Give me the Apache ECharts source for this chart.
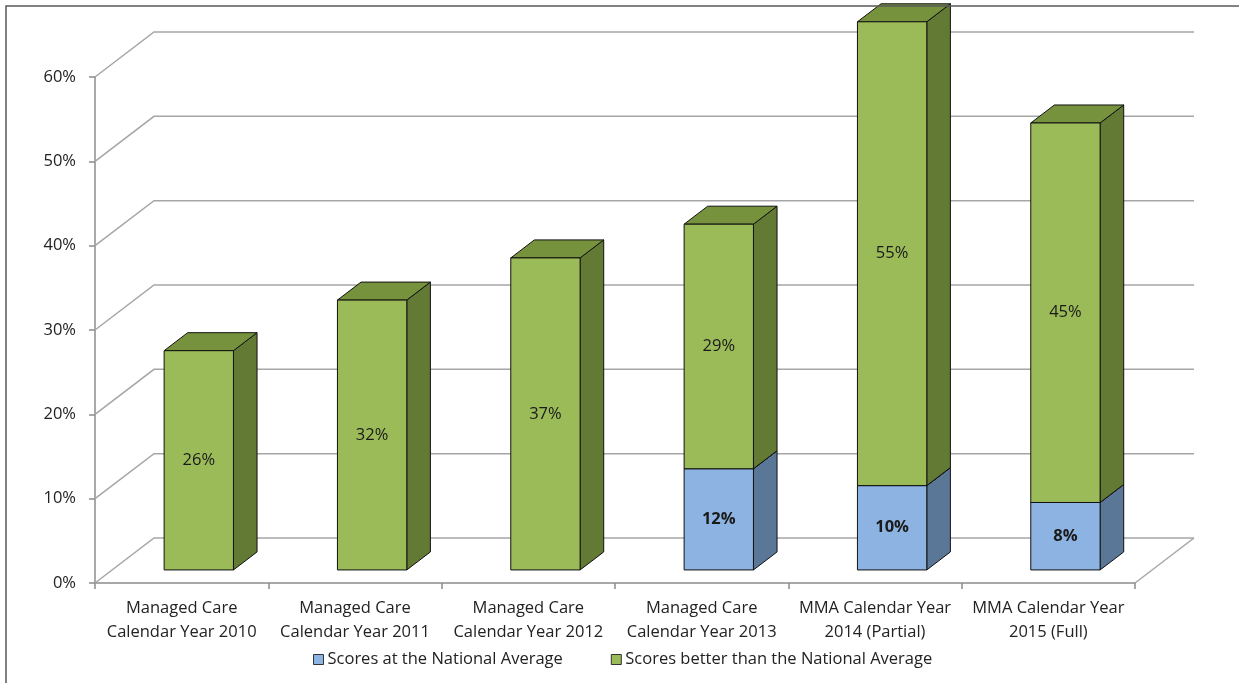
<!DOCTYPE html>
<html>
<head>
<meta charset="utf-8">
<title>Scores compared with the National Average</title>
<script src="https://cdn.jsdelivr.net/npm/echarts@6/dist/echarts.min.js"></script>
<style>
  html, body { margin: 0; padding: 0; background: #fff; }
  #chart { width: 1239px; height: 683px; }
</style>
</head>
<body>
<div id="chart"></div>
<script>
// Chart data
const categories = [
  'Managed Care\nCalendar Year 2010',
  'Managed Care\nCalendar Year 2011',
  'Managed Care\nCalendar Year 2012',
  'Managed Care\nCalendar Year 2013',
  'MMA Calendar Year\n2014 (Partial)',
  'MMA Calendar Year\n2015 (Full)'
];
const seriesNames = ['Scores at the National Average', 'Scores better than the National Average'];
const atAverage = [0, 0, 0, 0.12, 0.10, 0.08];
const betterThanAverage = [0.26, 0.32, 0.37, 0.29, 0.55, 0.45];
const yTicks = [0, 0.1, 0.2, 0.3, 0.4, 0.5, 0.6];

// Oblique projection of the depth axis (pixels for full depth)
const DEPTH_X = 59, DEPTH_Y = -45;
const BAR_FRONT = 0.29, BAR_BACK = 0.69;   // bar position within the depth
const BAR_WIDTH = 0.4;                      // share of a category band

const FONT = '"Open Sans", "Noto Sans", sans-serif';
const FONT_SIZE = 16.5;

const palettes = [
  { front: '#8DB3E2', side: '#5B7798', top: '#7196C2', bold: true },
  { front: '#9BBB59', side: '#637A35', top: '#76923C', bold: false }
];

function pct(v) { return Math.round(v * 100) + '%'; }

function makeBarRenderer(pal) {
  return function (params, api) {
    const i = api.value(0), v = api.value(1), base = api.value(2);
    if (!(v > 0)) return;
    const p0 = api.coord([i, base]);
    const p1 = api.coord([i, base + v]);
    const hw = api.size([1, 0])[0] * BAR_WIDTH / 2;
    const fx = DEPTH_X * BAR_FRONT, fy = DEPTH_Y * BAR_FRONT;
    const bx = DEPTH_X * (BAR_BACK - BAR_FRONT), by = DEPTH_Y * (BAR_BACK - BAR_FRONT);
    const L = p0[0] - hw + fx, R = p0[0] + hw + fx;
    const yb = p0[1] + fy, yt = p1[1] + fy;
    const edge = { stroke: '#111', lineWidth: 1, lineJoin: 'round' };
    return {
      type: 'group',
      children: [
        { type: 'polygon', shape: { points: [[R, yt], [R + bx, yt + by], [R + bx, yb + by], [R, yb]] },
          style: Object.assign({ fill: pal.side }, edge) },
        { type: 'polygon', shape: { points: [[L, yt], [R, yt], [R + bx, yt + by], [L + bx, yt + by]] },
          style: Object.assign({ fill: pal.top }, edge) },
        { type: 'polygon', shape: { points: [[L, yt], [R, yt], [R, yb], [L, yb]] },
          style: Object.assign({ fill: pal.front }, edge) },
        { type: 'text', x: (L + R) / 2, y: (yt + yb) / 2,
          style: { text: pct(v), fill: '#1a1a1a', font: (pal.bold ? 'bold ' : '') + FONT_SIZE + 'px ' + FONT,
                   align: 'center', verticalAlign: 'middle' } }
      ]
    };
  };
}

// Back wall, left side wall and floor gridlines
function renderWalls(params, api) {
  const v = api.value(0);
  const cs = params.coordSys;
  const x0 = cs.x, x1 = cs.x + cs.width;
  const y = api.coord([0, v])[1];
  const style = { stroke: '#A6A6A6', lineWidth: 1.5, fill: null };
  const children = [
    { type: 'polyline', shape: { points: [[x0, y], [x0 + DEPTH_X, y + DEPTH_Y], [x1 + DEPTH_X, y + DEPTH_Y]] }, style: style }
  ];
  if (v === 0) {
    children.push({ type: 'line', shape: { x1: x1, y1: y, x2: x1 + DEPTH_X, y2: y + DEPTH_Y }, style: style });
  }
  return { type: 'group', children: children };
}

const lowerData = categories.map((c, i) => [i, atAverage[i], 0]);
const upperData = categories.map((c, i) => [i, betterThanAverage[i], atAverage[i]]);

const chart = echarts.init(document.getElementById('chart'), null, { renderer: 'canvas' });
chart.setOption({
  backgroundColor: '#fff',
  animation: false,
  textStyle: { fontFamily: FONT },
  grid: { left: 95, right: 104, top: 77, bottom: 100, containLabel: false },
  graphic: [
    { type: 'rect', shape: { x: 6, y: 6, width: 1250, height: 700 },
      style: { fill: null, stroke: '#595959', lineWidth: 1.5 }, z: 100 }
  ],
  legend: {
    top: 651,
    left: 313,
    padding: [0, 0, 0, 0],
    itemWidth: 10,
    itemHeight: 10,
    itemGap: 48,
    icon: 'rect',
    textStyle: { fontFamily: FONT, fontSize: FONT_SIZE, color: '#222', padding: [0, 0, 0, -1] },
    data: [
      { name: seriesNames[0], itemStyle: { color: palettes[0].front, borderColor: '#333', borderWidth: 1 } },
      { name: seriesNames[1], itemStyle: { color: palettes[1].front, borderColor: '#333', borderWidth: 1 } }
    ]
  },
  xAxis: {
    type: 'category',
    data: categories,
    axisLine: { lineStyle: { color: '#8C8C8C', width: 1.5 } },
    axisTick: { show: true, length: 6, lineStyle: { color: '#8C8C8C', width: 1.5 } },
    axisLabel: { fontFamily: FONT, fontSize: FONT_SIZE, color: '#222', lineHeight: 24, margin: 13, interval: 0 },
    splitLine: { show: false }
  },
  yAxis: {
    type: 'value',
    min: 0,
    max: 0.6,
    interval: 0.1,
    axisLine: { show: true, lineStyle: { color: '#8C8C8C', width: 1.5 } },
    axisTick: { show: true, length: 6, lineStyle: { color: '#8C8C8C', width: 1.5 } },
    axisLabel: { fontFamily: FONT, fontSize: FONT_SIZE, color: '#222', margin: 19,
                 formatter: v => pct(v) },
    splitLine: { show: false }
  },
  series: [
    { type: 'custom', name: 'walls', data: yTicks.map(v => [v]), renderItem: renderWalls,
      encode: { y: 0 }, silent: true, z: 1 },
    { type: 'custom', name: seriesNames[0], data: lowerData, renderItem: makeBarRenderer(palettes[0]),
      encode: { x: 0, y: 1 }, itemStyle: { color: palettes[0].front }, clip: false, z: 3 },
    { type: 'custom', name: seriesNames[1], data: upperData, renderItem: makeBarRenderer(palettes[1]),
      encode: { x: 0, y: 1 }, itemStyle: { color: palettes[1].front }, clip: false, z: 4 }
  ]
});
</script>
</body>
</html>
